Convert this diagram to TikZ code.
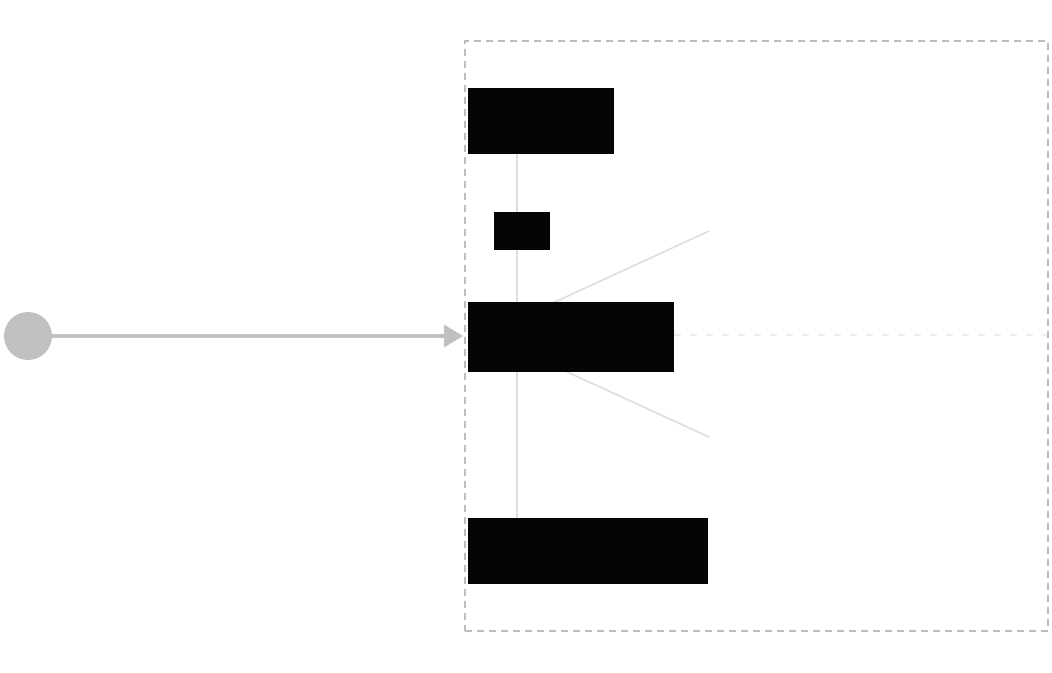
\documentclass[tikz,border=0pt]{standalone}
\usetikzlibrary{arrows.meta,backgrounds}
\definecolor{blk}{HTML}{050505}
\definecolor{frm}{HTML}{BDBDBD}
\definecolor{lin}{HTML}{DDDDDD}
\definecolor{hd}{HTML}{EEEEEE}
\definecolor{src}{HTML}{C0C0C0}
\begin{document}
\begin{tikzpicture}[x=1pt,y=-1pt,
  blkbox/.style={rectangle,fill=blk,draw=none,inner sep=0pt,outer sep=0pt,anchor=north west},
  frame/.style={rectangle,draw=frm,line width=1.5pt,dash pattern=on 7pt off 5pt,inner sep=0pt,outer sep=0pt,anchor=north west},
  conn/.style={draw=lin,line width=1.6pt},
  hdash/.style={draw=hd,line width=1.5pt,dash pattern=on 7pt off 9pt},
  flow/.style={draw=src,line width=3.5pt,-{Triangle[length=19pt,width=22pt]}}]
\useasboundingbox (0,0) rectangle (1052,672);
\node[frame,minimum width=583pt,minimum height=590pt] (fr) at (465,41) {};
\node[blkbox,minimum width=146pt,minimum height=66pt] (b1) at (468,88) {};
\node[blkbox,minimum width=56pt,minimum height=38pt] (b2) at (494,212) {};
\node[blkbox,minimum width=206pt,minimum height=70pt] (b3) at (468,302) {};
\node[blkbox,minimum width=240pt,minimum height=66pt] (b4) at (468,518) {};
\node[circle,fill=src,draw=none,minimum size=48pt,inner sep=0pt,outer sep=0pt] (s) at (28,336) {};
\coordinate (vx) at (517,0);
\coordinate (p1) at (479,337);
\coordinate (p2) at (491,337);
\coordinate (d1) at (709,231);
\coordinate (d2) at (709,437);
\begin{scope}[on background layer]
\fill[white] (0,0) rectangle (1052,672);
\draw[conn] (b1.south -| vx) -- (b4.north -| vx);
\draw[conn] (p1) -- (d1);
\draw[conn] (p2) -- (d2);
\draw[hdash] ([yshift=2pt]b3.east) -- ([yshift=2pt]b3.east -| fr.east);
\end{scope}
\draw[flow] (s.east) -- ([xshift=-2pt]fr.west);
\end{tikzpicture}
\end{document}
